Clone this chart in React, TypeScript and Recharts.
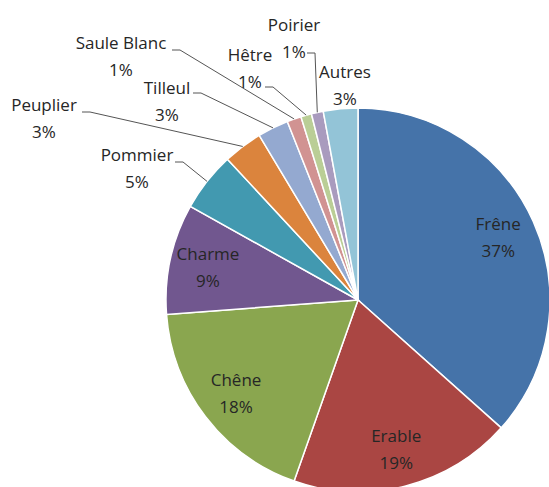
import { PieChart, Pie, Cell } from 'recharts';

const SPECIES = ['Frêne', 'Erable', 'Chêne', 'Charme', 'Pommier', 'Peuplier', 'Tilleul', 'Saule Blanc', 'Hêtre', 'Poirier', 'Autres'];
const SHARES = [36.6, 18.8, 18.4, 9.3, 5.0, 3.3, 2.6, 1.2, 0.9, 1.0, 2.9];
const COLORS = ['#4573A9', '#AA4643', '#8AA64F', '#71578F', '#4299B0', '#DB843D', '#94A9D0', '#D19392', '#BACE96', '#A99BBE', '#93C4D7'];

// outside labels for the thin slices (x = text centre, y = first line centre, lx/ly = leader start)
const OUTSIDE: Record<string, { x: number; y: number; lx?: number; ly?: number }> = {
    'Pommier': { x: 137, y: 155, lx: 175, ly: 162 },
    'Peuplier': { x: 44, y: 105, lx: 82, ly: 112 },
    'Tilleul': { x: 167, y: 88, lx: 193, ly: 93 },
    'Saule Blanc': { x: 121, y: 43, lx: 172, ly: 50 },
    'Hêtre': { x: 250, y: 55, lx: 265, ly: 87 },
    'Poirier': { x: 294, y: 25, lx: 307, ly: 53 },
    'Autres': { x: 345, y: 72 },
};

const total = SHARES.reduce((a, b) => a + b, 0);
const data = SPECIES.map((name, i) => ({ name, value: SHARES[i] }));

const RAD = Math.PI / 180;
const FONT = '"Open Sans", sans-serif';

const renderLabel = (props: any) => {
    const { cx, cy, midAngle, outerRadius, name, value } = props;
    const pct = Math.round((value / total) * 100) + '%';
    const ex = cx + outerRadius * Math.cos(-midAngle * RAD);
    const ey = cy + outerRadius * Math.sin(-midAngle * RAD);
    const out = OUTSIDE[name];

    let x: number, y: number;
    if (out) {
        x = out.x;
        y = out.y;
    } else {
        const r = outerRadius * 0.8;
        x = cx + r * Math.cos(-midAngle * RAD);
        y = cy + r * Math.sin(-midAngle * RAD) - 13;
    }

    return (
        <g>
            {out && out.lx !== undefined && (
                <polyline
                    points={`${out.lx},${out.ly} ${out.lx + 8},${out.ly} ${ex},${ey}`}
                    fill="none"
                    stroke="#555"
                    strokeWidth={1}
                />
            )}
            <text x={x} y={y + 6} textAnchor="middle" fill="#262626" fontSize={17} fontFamily={FONT}>
                <tspan x={x}>{name}</tspan>
                <tspan x={x} dy={27}>{pct}</tspan>
            </text>
        </g>
    );
};

export default function App() {
    return (
        <div style={{ position: 'absolute', left: 0, top: 0, width: 549, height: 487, background: '#fff', overflow: 'hidden' }}>
            <PieChart width={549} height={487} margin={{ top: 0, right: 0, bottom: 0, left: 0 }}>
                <Pie
                    data={data}
                    dataKey="value"
                    nameKey="name"
                    cx={358}
                    cy={300}
                    outerRadius={192}
                    startAngle={90}
                    endAngle={-270}
                    stroke="#fff"
                    strokeWidth={1.5}
                    label={renderLabel}
                    labelLine={false}
                    isAnimationActive={false}
                >
                    {data.map((_, i) => (
                        <Cell key={`cell-${i}`} fill={COLORS[i]} />
                    ))}
                </Pie>
            </PieChart>
        </div>
    );
}
